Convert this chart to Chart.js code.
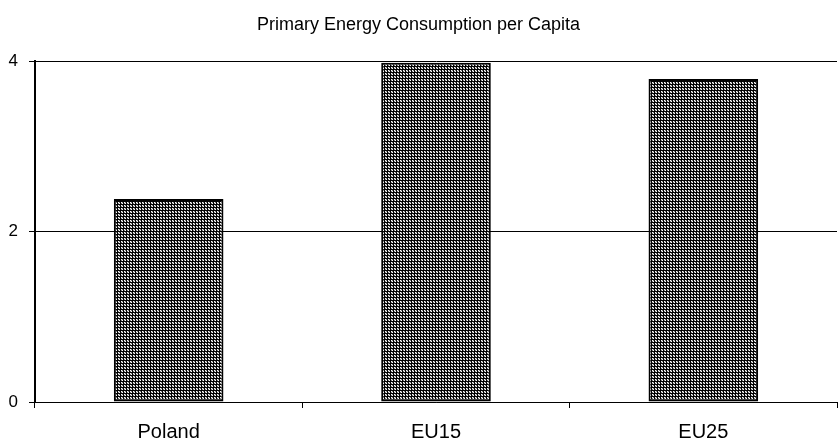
<!DOCTYPE html>
<html>
<head>
<meta charset="utf-8">
<script src="https://cdn.jsdelivr.net/npm/chart.js@4/dist/chart.umd.min.js"></script>
<style>
html,body{margin:0;padding:0;background:#fff;}
#wrap{width:838px;height:444px;}
</style>
</head>
<body>
<div id="wrap"><canvas id="c" width="838" height="444"></canvas></div>
<script>
const categories = ["Poland", "EU15", "EU25"];
const values = [2.38, 3.98, 3.79];
const yTicks = [0, 2, 4];
const titleText = "Primary Energy Consumption per Capita";

function makePattern() {
  const p = document.createElement('canvas');
  p.width = 3; p.height = 3;
  const g = p.getContext('2d');
  g.fillStyle = '#ffffff';
  g.fillRect(0, 0, 3, 3);
  g.fillStyle = '#000000';
  g.fillRect(0, 0, 3, 1);
  g.fillRect(0, 0, 1, 3);
  g.fillStyle = '#808080';
  g.fillRect(2, 1, 1, 1);
  g.fillRect(1, 2, 1, 1);
  return document.getElementById('c').getContext('2d').createPattern(p, 'repeat');
}

Chart.defaults.font.family = "'Liberation Sans', Arial, sans-serif";
Chart.defaults.color = '#000';

new Chart(document.getElementById('c'), {
  type: 'bar',
  data: {
    labels: categories,
    datasets: [{
      data: values,
      backgroundColor: makePattern(),
      borderColor: '#000',
      borderWidth: 2,
      borderSkipped: false,
      barPercentage: 0.41,
      categoryPercentage: 1.0
    }]
  },
  options: {
    responsive: false,
    animation: false,
    devicePixelRatio: 1,
    layout: { padding: { left: 0, right: 1, top: 0, bottom: 0 } },
    plugins: {
      legend: { display: false },
      tooltip: { enabled: false },
      title: {
        display: true,
        text: titleText,
        color: '#000',
        font: { size: 18, weight: 'normal' },
        padding: { top: 14, bottom: 25.4 }
      }
    },
    scales: {
      x: {
        offset: true,
        grid: { display: true, drawOnChartArea: false, offset: true, color: '#000', tickLength: 6, lineWidth: 1 },
        border: { display: true, color: '#000', width: 1 },
        ticks: { font: { size: 20 }, color: '#000', padding: 12, maxRotation: 0 },
        afterFit: (a) => { a.height = 42; }
      },
      y: {
        min: 0, max: 4,
        afterBuildTicks: (a) => { a.ticks = yTicks.map(v => ({ value: v })); },
        grid: { color: '#000', lineWidth: 1, tickLength: 6 },
        border: { display: true, color: '#000', width: 2 },
        ticks: { font: { size: 17 }, color: '#000', padding: 11 },
        afterFit: (a) => { a.width = 35; }
      }
    }
  }
});
</script>
</body>
</html>
